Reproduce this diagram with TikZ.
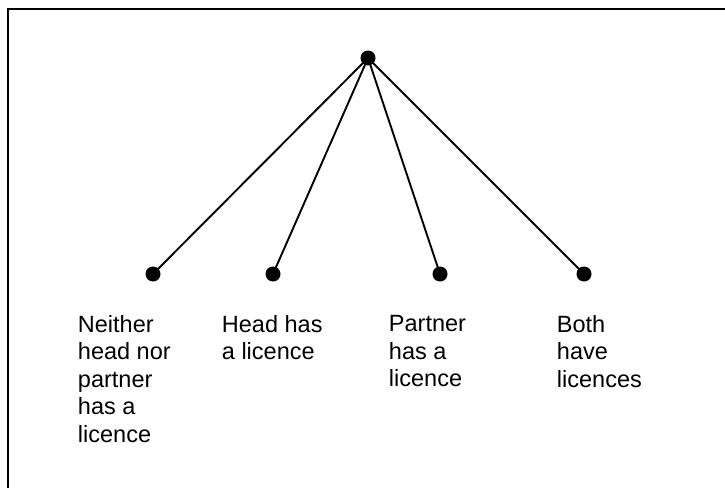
\documentclass[tikz,border=0pt]{standalone}
\usepackage{fontspec}
\setmainfont{Liberation Sans}
\usetikzlibrary{positioning}

\tikzset{
  dot/.style={circle, fill=black, inner sep=0pt, minimum size=15pt},
  label text/.style={anchor=north west, inner sep=0pt, align=left,
    font=\fontsize{23.5}{27.4}\selectfont}
}

\begin{document}
\begin{tikzpicture}[x=1pt, y=-1pt, line width=1.9pt]
        \useasboundingbox (0,0) rectangle (725,487);
        \draw[line width=1.6pt] (8,520) -- (8,9) -- (760,9);

        \node[dot] (root) at (368,58) {};
        \node[dot] (neither) at (153,274) {};
        \node[dot] (head) at (273,274) {};
        \node[dot] (partner) at (440,274) {};
        \node[dot] (both) at (584,274) {};

        \draw (root.center) -- (neither.center);
        \draw (root.center) -- (head.center);
        \draw (root.center) -- (partner.center);
        \draw (root.center) -- (both.center);

        \node[label text] (t1) at (77,314.5) {Neither\\head nor\\partner\\has a\\licence};
        \node[label text] (t2) at (221,314.5) {Head has\\a licence};
        \node[label text] (t3) at (388,314.5) {Partner\\has a\\licence};
        \node[label text] (t4) at (556,314.5) {Both\\have\\licences};
    \end{tikzpicture}
\end{document}
